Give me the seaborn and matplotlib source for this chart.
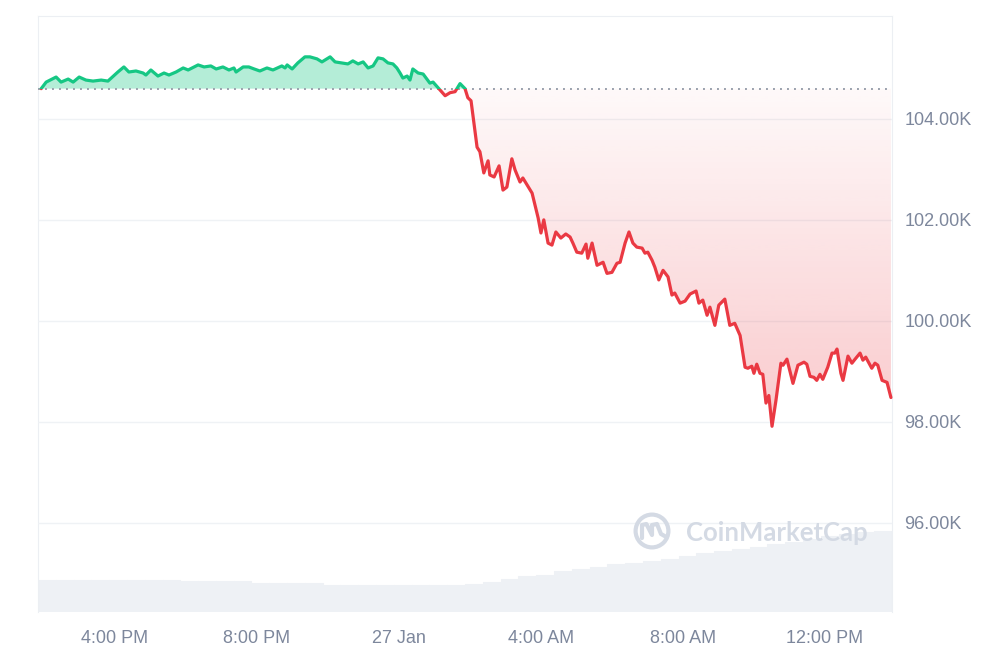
import numpy as np
import pandas as pd
import seaborn as sns
import matplotlib.pyplot as plt
from matplotlib.patches import Rectangle, Circle
from matplotlib.path import Path
from matplotlib.colors import to_rgb

# time in hours relative to 27 Jan 00:00, price in thousands of USD
hours = [-10.08, -9.94, -9.66, -9.52, -9.32, -9.18, -9.01, -8.82, -8.62, -8.39, -8.20,
         -7.92, -7.75, -7.61, -7.41, -7.21, -7.13, -6.99, -6.79, -6.62, -6.48, -6.28,
         -6.08, -5.94, -5.66, -5.49, -5.30, -5.15, -4.96, -4.79, -4.65, -4.59, -4.39, -4.23, -4.08,
         -3.92, -3.72, -3.55, -3.30, -3.21, -3.15, -3.01, -2.85, -2.65, -2.51, -2.31, -2.17,
         -1.94, -1.80, -1.61, -1.44, -1.30, -1.15, -1.01, -0.87, -0.73, -0.59, -0.45, -0.31, -0.17,
         -0.06, 0.03, 0.11, 0.23, 0.31, 0.39, 0.54, 0.68, 0.87, 0.96, 1.10, 1.30, 1.44, 1.58, 1.72, 1.86, 1.94, 2.03,
         2.20, 2.28, 2.39, 2.51, 2.56, 2.68, 2.82, 2.93, 3.04, 3.18, 3.27, 3.41, 3.49, 3.63, 3.75,
         3.92, 4.00, 4.08, 4.20, 4.31, 4.42, 4.56, 4.70, 4.82, 4.90, 5.01, 5.15, 5.27, 5.32, 5.44, 5.58, 5.75, 5.86, 6.00,
         6.14, 6.23, 6.37, 6.48, 6.59, 6.70, 6.85, 6.93, 7.01, 7.13, 7.21, 7.32, 7.44, 7.58, 7.69, 7.77, 7.92, 8.06,
         8.20, 8.37, 8.45, 8.56, 8.68, 8.76,
         8.90, 9.01, 9.18, 9.32, 9.46, 9.61, 9.75, 9.83, 9.94, 10.00, 10.08, 10.17, 10.25, 10.34, 10.42, 10.51, 10.62,
         10.76, 10.82, 10.93, 11.10, 11.24, 11.41, 11.49, 11.58, 11.69, 11.77, 11.86, 11.94, 12.08, 12.20, 12.28,
         12.34, 12.45, 12.51, 12.65, 12.76, 12.85, 12.99, 13.07, 13.15, 13.32, 13.41, 13.49, 13.61, 13.75, 13.86]
price = [104.60, 104.73, 104.83, 104.73, 104.79, 104.73, 104.83, 104.77, 104.75, 104.77, 104.75,
         104.93, 105.03, 104.93, 104.95, 104.91, 104.87, 104.97, 104.85, 104.91, 104.87, 104.93,
         105.01, 104.97, 105.07, 105.03, 105.05, 104.99, 105.03, 104.97, 105.01, 104.93, 105.03, 105.03, 104.99,
         104.95, 105.01, 104.97, 105.05, 105.01, 105.07, 104.99, 105.11, 105.23, 105.23, 105.19, 105.13,
         105.23, 105.13, 105.11, 105.09, 105.15, 105.09, 105.13, 105.01, 105.05, 105.21, 105.19, 105.11, 105.09,
         105.01, 104.91, 104.81, 104.85, 104.77, 104.99, 104.91, 104.89, 104.71, 104.73, 104.62, 104.46, 104.52,
         104.54, 104.70, 104.60, 104.42, 104.36,
         103.44, 103.35, 102.93, 103.17, 102.89, 102.85, 103.07, 102.59, 102.65, 103.21, 102.99, 102.75, 102.83,
         102.67, 102.53,
         102.04, 101.74, 102.00, 101.54, 101.50, 101.76, 101.64, 101.72, 101.66, 101.54, 101.36, 101.34, 101.52,
         101.24, 101.54, 101.10, 101.16, 100.94, 100.96,
         101.14, 101.16, 101.54, 101.76, 101.54, 101.46, 101.44, 101.34, 101.36, 101.20, 101.06, 100.81, 101.00,
         100.87, 100.51, 100.55, 100.35, 100.39, 100.53, 100.59, 100.35, 100.41, 100.11, 100.27,
         99.91, 100.31, 100.43, 99.91, 99.95, 99.71, 99.08, 99.06, 99.10, 98.96, 99.14, 98.96, 98.94, 98.37,
         98.52, 97.91, 98.42,
         99.16, 99.12, 99.24, 98.76, 99.12, 99.18, 99.14, 98.90, 98.88, 98.82, 98.94, 98.84, 99.08, 99.36, 99.36,
         99.44, 98.96, 98.82, 99.30, 99.16, 99.24, 99.36, 99.22, 99.28, 99.06, 99.16, 99.12, 98.82, 98.78, 98.48]
open_price = 104.60

# rolling 24h volume, billions, one value per half hour
volume = [32, 32, 32, 32, 32, 32, 32, 32, 30.5, 30.5, 31, 30.5, 29, 29, 29, 29,
          26.5, 26.5, 26.5, 26.5, 26.5, 26.5, 26.5, 27, 28, 30, 33, 35.5, 37, 41, 43, 45,
          48, 49, 51, 53, 56, 59, 61, 63, 65, 68, 70, 73, 76, 78, 80, 81]

x_ticks = [-8, -4, 0, 4, 8, 12]
x_labels = ['4:00 PM', '8:00 PM', '27 Jan', '4:00 AM', '8:00 AM', '12:00 PM']
y_ticks = [96, 98, 100, 102, 104]
y_labels = ['96.00K', '98.00K', '100.00K', '102.00K', '104.00K']

GREEN = '#16c784'
RED = '#ea3943'
TXT = '#7d879c'
EDGE = '#eceff3'
VOL = '#eef1f5'

sns.set_style('white')
plt.rcParams['font.family'] = ['Liberation Sans', 'DejaVu Sans']

df = pd.DataFrame({'h': hours, 'price': price})
xmin, xmax = -10.17, 13.89

fig = plt.figure(figsize=(10, 6.47), dpi=100)
ax_v = fig.add_axes([0.038, 0.0541, 0.854, 0.9212])
ax = ax_v.twinx()

# volume bars in the background
edges = np.linspace(xmin, xmax, len(volume) + 1)
vol_df = pd.DataFrame({'t': (edges[:-1] + edges[1:]) / 2, 'vol': volume})
sns.histplot(data=vol_df, x='t', weights='vol', bins=list(edges), ax=ax_v,
             color=VOL, alpha=1, edgecolor=VOL, linewidth=0.8)
ax_v.set_ylim(0, 596)
ax_v.set_xlim(xmin, xmax)
ax_v.set_yticks([])
ax_v.set_ylabel('')
ax_v.set_xlabel('')
ax_v.set_xticks(x_ticks, x_labels)
ax_v.tick_params(axis='x', length=0, pad=13, labelsize=13, colors=TXT)
for side in ['top', 'left', 'right']:
    ax_v.spines[side].set_color(EDGE)
ax_v.spines['bottom'].set_visible(False)
for s in ax.spines.values():
    s.set_visible(False)

# price line, green above the open, red below
h = np.array(hours)
p = np.array(price)
ax.fill_between(h, p, open_price, where=p >= open_price, interpolate=True,
                color=GREEN, alpha=0.32, linewidth=0)
neg = ax.fill_between(h, p, open_price, where=p <= open_price, interpolate=True,
                      color='none', linewidth=0)
grad = np.zeros((256, 1, 4))
grad[..., :3] = to_rgb(RED)
grad[:, 0, 3] = np.linspace(0.03, 0.27, 256)
im = ax.imshow(grad, extent=[xmin, xmax, p.min(), open_price], aspect='auto',
               origin='upper', interpolation='bilinear', zorder=1)
im.set_clip_path(Path.make_compound_path(*neg.get_paths()), ax.transData)

sns.lineplot(data=df, x='h', y='price', ax=ax, color=GREEN, linewidth=2.3)
ax.lines[-1].set_clip_path(Rectangle((xmin - 1, open_price), 30, 20, transform=ax.transData))
sns.lineplot(data=df, x='h', y='price', ax=ax, color=RED, linewidth=2.3)
ax.lines[-1].set_clip_path(Rectangle((xmin - 1, open_price - 20), 30, 20, transform=ax.transData))

ax.axhline(open_price, color='#9aa1ad', linestyle=(0, (1, 2.6)), linewidth=1.4, zorder=1.8)

ax.set_xlim(xmin, xmax)
ax.set_ylim(94.23, 106.04)
ax.set_yticks(y_ticks, y_labels)
ax.tick_params(axis='y', length=0, pad=9, labelsize=13, colors=TXT)
ax.grid(axis='y', color='#eff2f5', linewidth=1)
ax.set_xlabel('')
ax.set_ylabel('')

# watermark
fig.text(0.686, (647 - 533) / 647, 'CoinMarketCap', fontsize=18.5, fontweight='bold',
         color='#d4dae4', family=['Lato', 'DejaVu Sans'], va='center', ha='left')
ax_logo = fig.add_axes([0.632, (647 - 551) / 647, 0.04, 40 / 647])
ax_logo.set_xlim(-1, 1)
ax_logo.set_ylim(-1, 1)
ax_logo.axis('off')
ax_logo.add_patch(Circle((0, 0), 0.82, fill=False, color='#d4dae4', linewidth=3))
ax_logo.plot([-0.5, -0.5, -0.28, 0.0, 0.0, 0.25, 0.45, 0.72], [-0.35, 0.3, 0.35, -0.2, 0.3, 0.35, -0.15, -0.3],
             color='#d4dae4', linewidth=3, solid_capstyle='round', solid_joinstyle='round')

fig.savefig('out.png', dpi=100)
